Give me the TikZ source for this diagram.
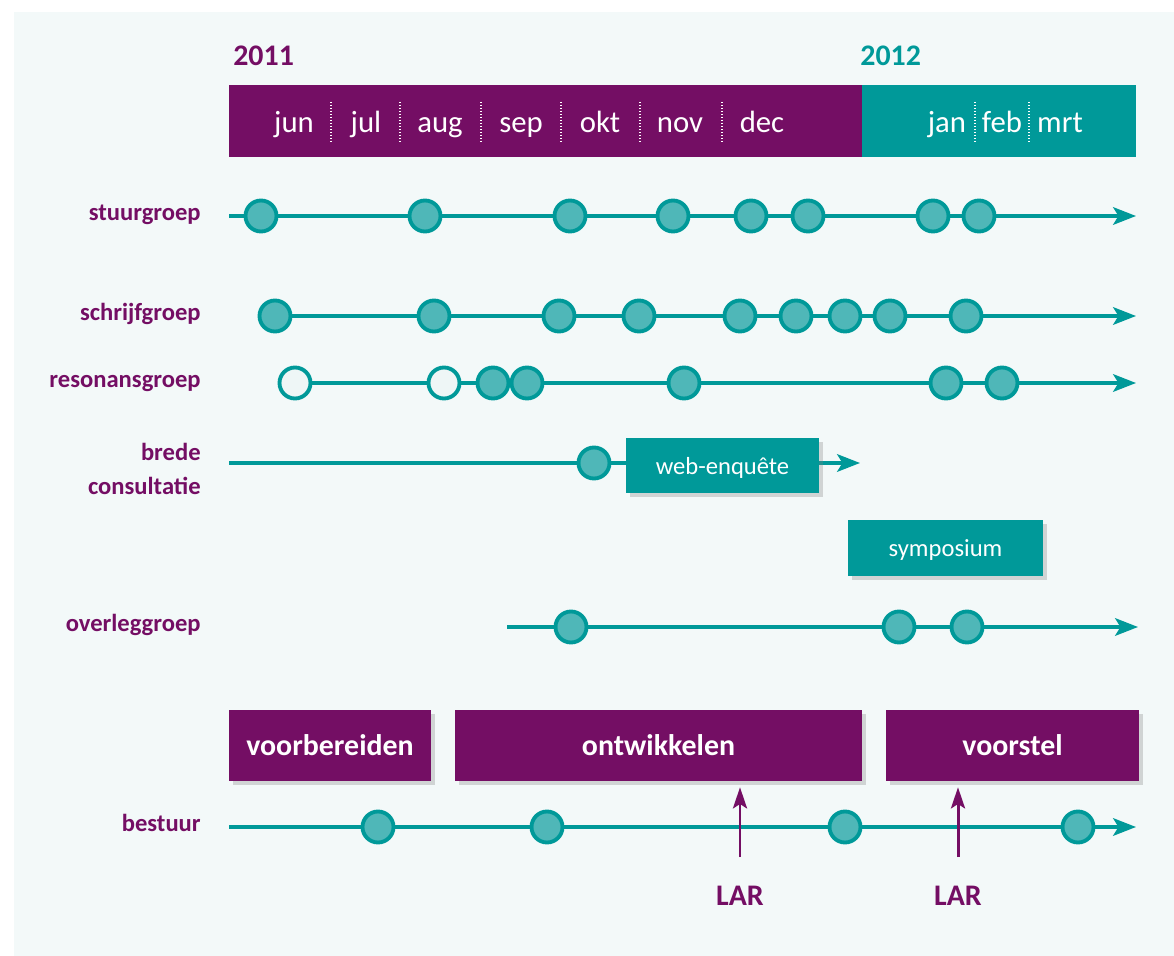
\documentclass[tikz,border=0pt]{standalone}
\usepackage{fontspec}
\setmainfont{Carlito}
\usepackage{tikz}
\usetikzlibrary{arrows.meta,shadows}

\definecolor{paars}{HTML}{740E64}
\definecolor{turkoois}{HTML}{009999}
\definecolor{stipkleur}{HTML}{4FB7B8}
\definecolor{leeg}{HTML}{EEF6F6}
\definecolor{paneel}{HTML}{F3F9F9}

\begin{document}
\begin{tikzpicture}[x=0.02cm,y=-0.02cm,
    lijn/.style={turkoois,line width=2pt,-{Stealth[length=13pt,width=10pt,inset=3pt]}},
    stip/.style={circle,draw=turkoois,fill=stipkleur,line width=2.2pt,minimum size=0.62cm,inner sep=0pt},
    leegstip/.style={stip,fill=leeg},
    groep/.style={paars,font=\bfseries\fontsize{14}{19}\selectfont,anchor=mid east,align=right,inner sep=0pt},
    jaar/.style={font=\bfseries\fontsize{17}{20}\selectfont,anchor=base west,inner sep=0pt},
    maand/.style={white,font=\fontsize{17.5}{20}\selectfont,anchor=base},
    scheid/.style={white,densely dotted,line width=0.7pt},
    schaduw/.style={drop shadow={shadow xshift=2.5pt,shadow yshift=-2.5pt,opacity=0.3}},
    vak/.style={fill=turkoois,text=white,font=\fontsize{14}{16}\selectfont,text depth=0pt,inner sep=0pt,schaduw},
    fase/.style={fill=paars,text=white,font=\bfseries\fontsize{17}{20}\selectfont,minimum height=1.42cm,inner sep=0pt,schaduw},
    lar/.style={paars,line width=1.7pt,-{Stealth[length=12pt,width=8pt,inset=2.5pt]}}]

    \useasboundingbox (0,0) rectangle (1174,956);
    \fill[paneel] (14,12) rectangle (1174,956);

    % jaren en maanden
    \node[jaar,paars] (j2011) at (233,66) {2011};
    \node[jaar,turkoois] (j2012) at (860,66) {2012};
    \node[fill=paars,minimum width=12.66cm,minimum height=1.44cm,inner sep=0pt,anchor=north west] (balk11) at (229,85) {};
    \node[fill=turkoois,minimum width=5.48cm,minimum height=1.44cm,inner sep=0pt,anchor=north west] (balk12) at (862,85) {};
    \node[maand] (jun) at (294,133) {jun};
    \node[maand] (jul) at (366,133) {jul};
    \node[maand] (aug) at (440,133) {aug};
    \node[maand] (sep) at (521,133) {sep};
    \node[maand] (okt) at (600,133) {okt};
    \node[maand] (nov) at (680,133) {nov};
    \node[maand] (dec) at (762,133) {dec};
    \node[maand] (jan) at (947,133) {jan};
    \node[maand] (feb) at (1002,133) {feb};
    \node[maand] (mrt) at (1060,133) {mrt};
    \draw[scheid] (331,102) -- (331,143);
    \draw[scheid] (400,102) -- (400,143);
    \draw[scheid] (481,102) -- (481,143);
    \draw[scheid] (561,102) -- (561,143);
    \draw[scheid] (640,102) -- (640,143);
    \draw[scheid] (722,102) -- (722,143);
    \draw[scheid] (975,102) -- (975,143);
    \draw[scheid] (1029,102) -- (1029,143);

    % groepen
    \node[groep] (stuur) at (201,216) {stuurgroep};
    \node[groep] (schrijf) at (201,316) {schrijfgroep};
    \node[groep] (reson) at (201,383) {resonansgroep};
    \node[groep,anchor=east] (brede) at (201,469) {brede\\consultatie};
    \node[groep] (overleg) at (201,627) {overleggroep};
    \node[groep] (bestuur) at (201,827) {bestuur};

    % tijdlijnen
    \coordinate (st0) at (229,216);  \coordinate (stE) at (1136,216);
    \coordinate (sc0) at (275,316);  \coordinate (scE) at (1136,316);
    \coordinate (re0) at (295,383);  \coordinate (reE) at (1136,383);
    \coordinate (br0) at (229,463);  \coordinate (brE) at (860,463);
    \coordinate (ov0) at (507,627);  \coordinate (ovE) at (1138,627);
    \coordinate (be0) at (229,827);  \coordinate (beE) at (1136,827);
    \draw[lijn] (st0) -- (stE);
    \draw[lijn] (sc0) -- (scE);
    \draw[lijn] (re0) -- (reE);
    \draw[lijn] (br0) -- (brE);
    \draw[lijn] (ov0) -- (ovE);
    \draw[lijn] (be0) -- (beE);

    \begin{scope}[every node/.style={stip}]
        \node (st1) at (261,216) {};
        \node (st2) at (425,216) {};
        \node (st3) at (570,216) {};
        \node (st4) at (673,216) {};
        \node (st5) at (751,216) {};
        \node (st6) at (808,216) {};
        \node (st7) at (933,216) {};
        \node (st8) at (979,216) {};

        \node (sc1) at (275,316) {};
        \node (sc2) at (434,316) {};
        \node (sc3) at (559,316) {};
        \node (sc4) at (639,316) {};
        \node (sc5) at (740,316) {};
        \node (sc6) at (796,316) {};
        \node (sc7) at (845,316) {};
        \node (sc8) at (890,316) {};
        \node (sc9) at (966,316) {};

        \node[leegstip] (re1) at (295,383) {};
        \node[leegstip] (re2) at (444,383) {};
        \node (re3) at (493,383) {};
        \node (re4) at (527,383) {};
        \node (re5) at (684,383) {};
        \node (re6) at (946,383) {};
        \node (re7) at (1002,383) {};

        \node (br1) at (594,463) {};

        \node (ov1) at (571,627) {};
        \node (ov2) at (899,627) {};
        \node (ov3) at (967,627) {};

        \node (be1) at (378,827) {};
        \node (be2) at (547,827) {};
        \node (be3) at (845,827) {};
        \node (be4) at (1078,827) {};
    \end{scope}

    % vakken
    \node[vak,minimum width=3.86cm,minimum height=1.1cm] (web) at (722.5,465.5) {web-enquête};
    \node[vak,minimum width=3.9cm,minimum height=1.12cm] (symp) at (945.5,548) {symposium};

    \node[fase,minimum width=4.04cm] (voorb) at (330,745.5) {voorbereiden};
    \node[fase,minimum width=8.14cm] (ontw) at (658.5,745.5) {ontwikkelen};
    \node[fase,minimum width=5.06cm] (voorst) at (1012.5,745.5) {voorstel};

    % LAR
    \node[paars,font=\bfseries\fontsize{17}{20}\selectfont,anchor=base,inner sep=0pt] (lar1) at (740,905) {LAR};
    \node[paars,font=\bfseries\fontsize{17}{20}\selectfont,anchor=base,inner sep=0pt] (lar2) at (958,905) {LAR};
    \coordinate (a1) at (740,857);
    \coordinate (a2) at (958,857);
    \draw[lar,shorten >=3.4pt] (a1) -- (a1 |- ontw.south);
    \draw[lar,shorten >=3.4pt] (a2) -- (a2 |- voorst.south);
\end{tikzpicture}
\end{document}
